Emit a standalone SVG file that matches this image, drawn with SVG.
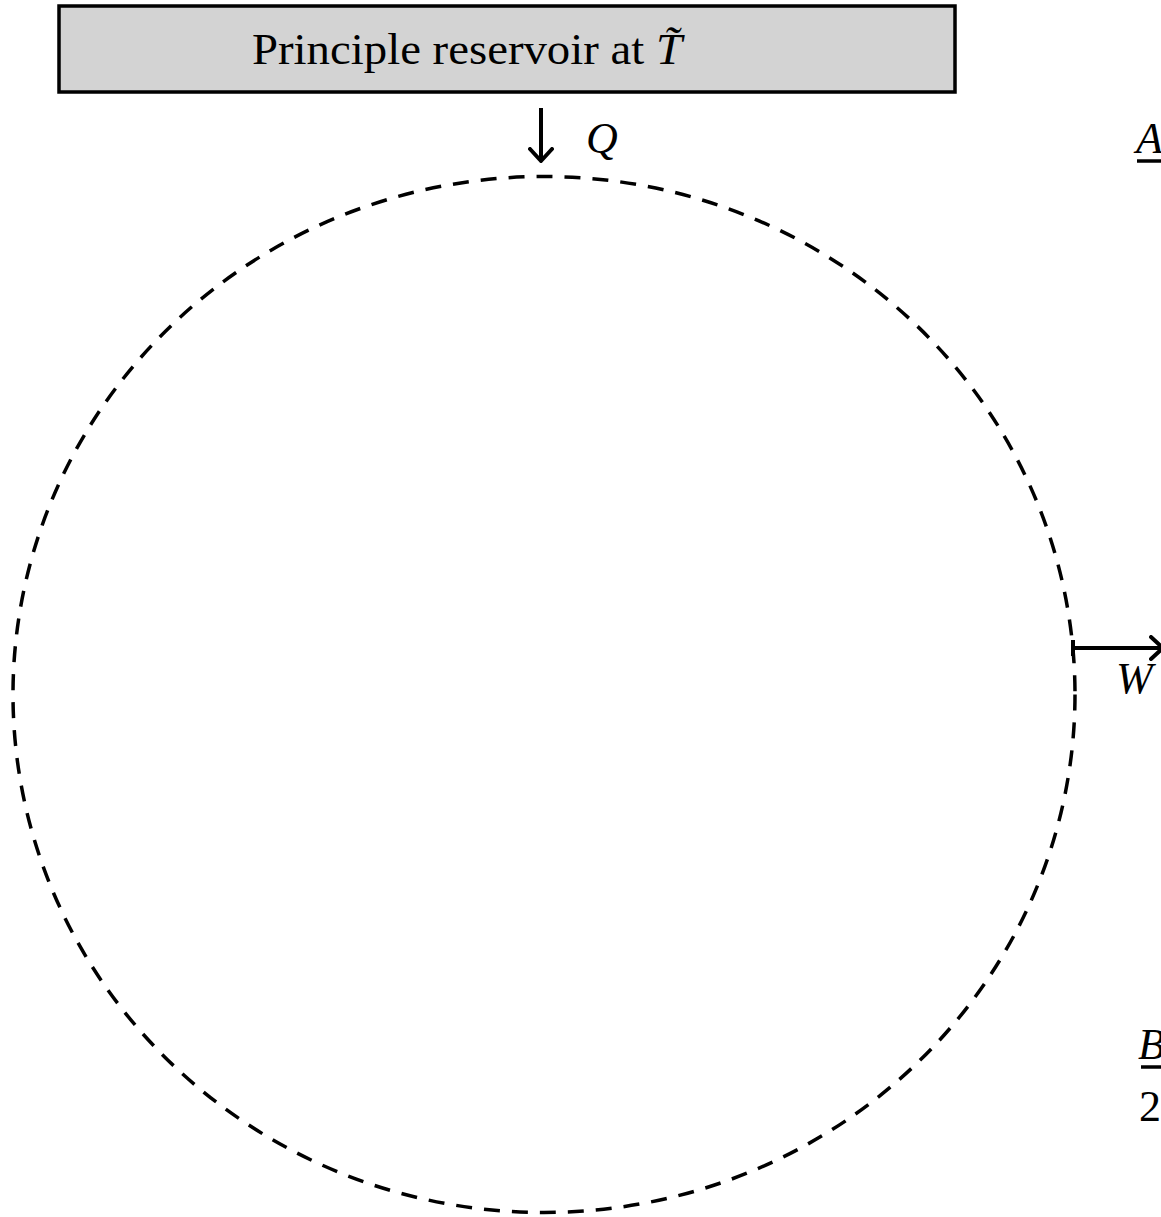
<svg xmlns="http://www.w3.org/2000/svg" width="1161" height="1217" viewBox="0 0 1161 1217">
<style>
text{font-family:"Liberation Serif","DejaVu Serif",serif;fill:#000}
.it{font-style:italic}
.ln{stroke:#000;stroke-width:4;fill:none}
</style>
<defs>
<marker id="ah" viewBox="0 0 16 26" refX="14" refY="13" markerWidth="16" markerHeight="26" markerUnits="userSpaceOnUse" orient="auto">
<path d="M2,2 L14,13 L2,24" fill="none" stroke="#000" stroke-width="4" stroke-linecap="round" stroke-linejoin="round"/>
</marker>
</defs>
<rect width="1161" height="1217" fill="#fff"/>
<g id="reservoir">
<rect x="59" y="6" width="896" height="86" fill="#d3d3d3" stroke="#000" stroke-width="3.5"/>
<text x="252" y="64" font-size="45" textLength="430" lengthAdjust="spacingAndGlyphs">Principle reservoir at <tspan class="it">T̃</tspan></text>
</g>
<g id="system">
<ellipse cx="544" cy="694.5" rx="531" ry="518" fill="none" stroke="#000" stroke-width="3.5" stroke-dasharray="16 12"/>
</g>
<g id="connectors">
<line class="ln" x1="541" y1="108" x2="541" y2="161" marker-end="url(#ah)"/>
<line class="ln" x1="1073" y1="648" x2="1163" y2="648" marker-end="url(#ah)"/>
<line class="ln" x1="1073" y1="640" x2="1073" y2="656" stroke-width="2.5"/>
</g>
<g id="labels">
<text class="it" x="586" y="153" font-size="44">Q</text>
<text class="it" x="1116" y="693" font-size="44">W</text>
<text class="it" x="1136" y="153" font-size="44">A</text>
<line x1="1137" y1="161" x2="1161" y2="161" stroke="#000" stroke-width="3.5"/>
<text class="it" x="1138" y="1059" font-size="44">B</text>
<line x1="1141" y1="1067" x2="1161" y2="1067" stroke="#000" stroke-width="3.5"/>
<text x="1139" y="1121" font-size="44">2</text>
</g>
</svg>
